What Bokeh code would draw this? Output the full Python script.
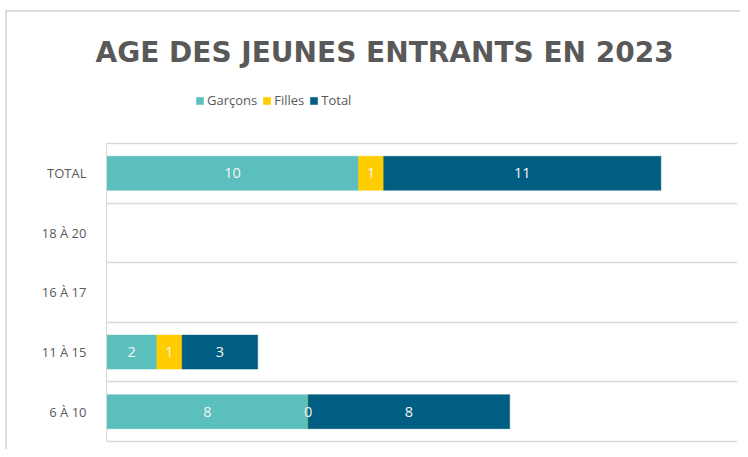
import numpy as np
from bokeh.plotting import figure
from bokeh.models import (ColumnDataSource, Range1d, FixedTicker, Legend, LegendItem,
                          LabelSet)
from bokeh.core.properties import value
from bokeh.embed import file_html
from bokeh.resources import INLINE

# ---- data ----
categories = ["6 À 10", "11 À 15", "16 À 17", "18 À 20", "TOTAL"]
garcons = [8, 2, None, None, 10]
filles = [0, 1, None, None, 1]
total = [8, 3, None, None, 11]
series_names = ["Garçons", "Filles", "Total"]
colors = ["#5bbfbe", "#ffcc00", "#005e82"]
title_text = "AGE DES JEUNES ENTRANTS EN 2023"

FONT = "Open Sans"
GREY = "#595959"

n = len(categories)
ypos = [i + 0.5 for i in range(n)]

p = figure(frame_width=631, frame_height=373,
           min_border_left=99, min_border_right=3, min_border_top=58, min_border_bottom=6,
           x_range=Range1d(0, 25.04), y_range=Range1d(-0.034, 6.225),
           output_backend="svg", toolbar_location=None)
p.styles = {"margin-left": "5px", "margin-top": "10px",
            "border-left": "2px solid #dcdcdc", "border-top": "2px solid #dcdcdc"}
p.outline_line_color = None
p.background_fill_color = "white"
p.border_fill_color = "white"

# title
p.title.text = title_text
p.title.align = "left"
p.title.offset = -11
p.title.standoff = 3
p.title.text_font = "DejaVu Sans"
p.title.text_font_size = "28px"
p.title.text_font_style = "bold"
p.title.text_color = GREY

series = [garcons, filles, total]
left = np.zeros(n)
renderers = []
for name, vals, col in zip(series_names, series, colors):
    v = np.array([np.nan if x is None else x for x in vals], dtype=float)
    vv = np.nan_to_num(v)
    right = left + vv
    src = ColumnDataSource(dict(y=ypos, left=left.copy(), right=right,
                                mid=(left + right) / 2,
                                lab=["" if np.isnan(x) else str(int(x)) for x in v]))
    r = p.hbar(y="y", left="left", right="right", height=0.57, source=src,
               fill_color=col, line_color=col, line_width=0.5)
    renderers.append(r)
    p.add_layout(LabelSet(x="mid", y="y", text="lab", source=src,
                          text_color="#f4f4f4", text_font=value(FONT),
                          text_font_size="14.5px", text_align="center",
                          text_baseline="middle"))
    left = right

# axes
p.xaxis.visible = False
yax = p.yaxis[0]
yax.ticker = FixedTicker(ticks=ypos)
yax.major_label_overrides = {y: c for y, c in zip(ypos, categories)}
yax.bounds = (0, n)
yax.axis_line_color = "#d9d9d9"
yax.axis_line_width = 1
yax.major_tick_line_color = None
yax.minor_tick_line_color = None
yax.major_label_standoff = 14
yax.major_label_text_color = GREY
yax.major_label_text_font = FONT
yax.major_label_text_font_size = "13px"

p.xgrid.grid_line_color = None
p.ygrid.ticker = FixedTicker(ticks=list(range(n + 1)))
p.ygrid.grid_line_color = "#d9d9d9"
p.ygrid.grid_line_width = 1.5

legend = Legend(items=[LegendItem(label=nm, renderers=[r]) for nm, r in zip(series_names, renderers)],
                orientation="horizontal", location=(89, 334),
                glyph_width=9, glyph_height=9, label_standoff=3, spacing=5,
                padding=0, margin=0, border_line_color=None, background_fill_alpha=0,
                label_text_font=FONT, label_text_font_size="13px",
                label_text_color=GREY)
p.add_layout(legend)

open("out.html", "w").write(file_html(p, INLINE))
